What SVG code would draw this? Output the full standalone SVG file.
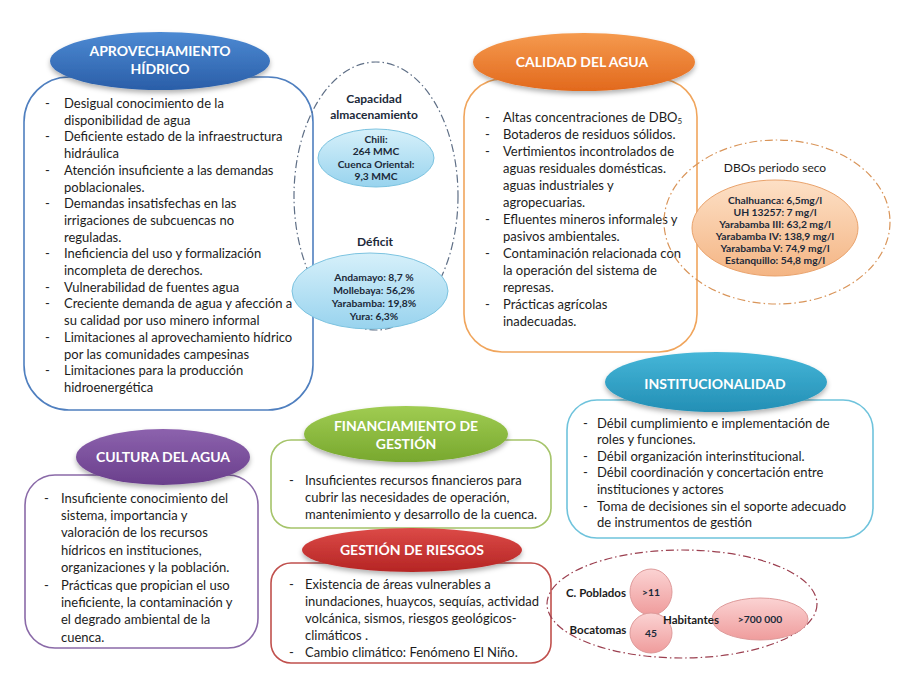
<svg xmlns="http://www.w3.org/2000/svg" width="898" height="685" viewBox="0 0 898 685">
<defs>
<linearGradient id="gBlue" x1="0" y1="0" x2="0" y2="1"><stop offset="0" stop-color="#4d8ad3"/><stop offset="1" stop-color="#2a5ea8"/></linearGradient>
<linearGradient id="gOrange" x1="0" y1="0" x2="0" y2="1"><stop offset="0" stop-color="#f59a4e"/><stop offset="1" stop-color="#e2691d"/></linearGradient>
<linearGradient id="gTeal" x1="0" y1="0" x2="0" y2="1"><stop offset="0" stop-color="#45b6d8"/><stop offset="1" stop-color="#238fb5"/></linearGradient>
<linearGradient id="gPurple" x1="0" y1="0" x2="0" y2="1"><stop offset="0" stop-color="#8c62ad"/><stop offset="1" stop-color="#6a3f8c"/></linearGradient>
<linearGradient id="gGreen" x1="0" y1="0" x2="0" y2="1"><stop offset="0" stop-color="#a0cc52"/><stop offset="1" stop-color="#78a82e"/></linearGradient>
<linearGradient id="gRed" x1="0" y1="0" x2="0" y2="1"><stop offset="0" stop-color="#dc4a47"/><stop offset="1" stop-color="#b52524"/></linearGradient>
<linearGradient id="gLBlue" x1="0" y1="0" x2="0" y2="1"><stop offset="0" stop-color="#d6f0fa"/><stop offset="1" stop-color="#98d3ee"/></linearGradient>
<linearGradient id="gLOrange" x1="0" y1="0" x2="0" y2="1"><stop offset="0" stop-color="#fde0c6"/><stop offset="1" stop-color="#f4b584"/></linearGradient>
<linearGradient id="gPink" x1="0" y1="0" x2="0" y2="1"><stop offset="0" stop-color="#fbd3d3"/><stop offset="1" stop-color="#ef9c9c"/></linearGradient>
<filter id="sh" x="-10%" y="-20%" width="120%" height="150%"><feDropShadow dx="0" dy="3" stdDeviation="2.5" flood-color="#000" flood-opacity="0.3"/></filter>
</defs>
<style>
.box{fill:#fff;stroke-width:1.6}
.t{font-family:Lato,"Liberation Sans",sans-serif;font-size:13px;fill:#1c1c1c}
.title{font-family:Lato,"Liberation Sans",sans-serif;font-size:14px;font-weight:bold;fill:#fff;text-anchor:middle}
.lab{font-family:Lato,"Liberation Sans",sans-serif;font-weight:bold;fill:#1c2a3a;text-anchor:middle}
.sm{font-size:10.3px}
.md{font-size:12px}
.big{font-size:11.5px;fill:#1c1c1c}
.norm{font-weight:normal;fill:#1c1c1c}
.dd{fill:none;stroke-width:1.2;stroke-dasharray:8 3 1.5 3}
</style>
<rect width="898" height="685" fill="#fff"/>
<g id="connectors"/>

<g id="aprovechamiento">
<rect class="box" x="24" y="77" width="289" height="333" rx="45" stroke="#4f7fbf"/>
<ellipse cx="160" cy="61" rx="110" ry="29" fill="url(#gBlue)" filter="url(#sh)"/>
<text class="title" x="160" y="56">APROVECHAMIENTO</text>
<text class="title" x="160" y="74">HÍDRICO</text>
<g class="t">
<text x="45" y="108">-</text><text x="64" y="108">Desigual conocimiento de la</text>
<text x="64" y="124.7">disponibilidad de agua</text>
<text x="45" y="141.4">-</text><text x="64" y="141.4">Deficiente estado de la infraestructura</text>
<text x="64" y="158.1">hidráulica</text>
<text x="45" y="174.8">-</text><text x="64" y="174.8">Atención insuficiente a las demandas</text>
<text x="64" y="191.5">poblacionales.</text>
<text x="45" y="208.2">-</text><text x="64" y="208.2">Demandas insatisfechas en las</text>
<text x="64" y="224.9">irrigaciones de subcuencas no</text>
<text x="64" y="241.6">reguladas.</text>
<text x="45" y="258.3">-</text><text x="64" y="258.3">Ineficiencia del uso y formalización</text>
<text x="64" y="275">incompleta de derechos.</text>
<text x="45" y="291.7">-</text><text x="64" y="291.7">Vulnerabilidad de fuentes agua</text>
<text x="45" y="308.4">-</text><text x="64" y="308.4">Creciente demanda de agua y afección a</text>
<text x="64" y="325.1">su calidad por uso minero informal</text>
<text x="45" y="341.8">-</text><text x="64" y="341.8">Limitaciones al aprovechamiento hídrico</text>
<text x="64" y="358.5">por las comunidades campesinas</text>
<text x="45" y="375.2">-</text><text x="64" y="375.2">Limitaciones  para la producción</text>
<text x="64" y="391.9">hidroenergética</text>
</g>
</g>

<g id="almacenamiento-deficit">
<ellipse class="dd" cx="376" cy="196" rx="82" ry="134" stroke="#5f6f86"/>
<text class="lab md" x="374" y="103">Capacidad</text>
<text class="lab md" x="374" y="119">almacenamiento</text>
<ellipse cx="376" cy="158" rx="58" ry="29" fill="url(#gLBlue)" stroke="#7cc3e0"/>
<text class="lab sm" x="376" y="142.5">Chili:</text>
<text class="lab sm" x="376" y="155">264 MMC</text>
<text class="lab sm" x="376" y="167.5">Cuenca Oriental:</text>
<text class="lab sm" x="376" y="180">9,3 MMC</text>
<text class="lab md" x="375" y="246">Déficit</text>
<ellipse cx="370" cy="291" rx="78" ry="38" fill="url(#gLBlue)" stroke="#7cc3e0"/>
<text class="lab sm" x="374" y="280.5">Andamayo: 8,7 %</text>
<text class="lab sm" x="374" y="293.5">Mollebaya: 56,2%</text>
<text class="lab sm" x="374" y="306.5">Yarabamba: 19,8%</text>
<text class="lab sm" x="374" y="319.5">Yura: 6,3%</text>
</g>

<g id="calidad">
<rect class="box" x="464" y="79" width="233" height="273" rx="38" stroke="#f0a55c"/>
<ellipse cx="584" cy="62" rx="111" ry="29" fill="url(#gOrange)" filter="url(#sh)"/>
<text class="title" x="582" y="67">CALIDAD DEL AGUA</text>
<g class="t">
<text x="485" y="121.5">-</text><text x="503" y="121.5">Altas concentraciones de DBO<tspan font-size="8" dy="2">5</tspan></text>
<text x="485" y="138.5">-</text><text x="503" y="138.5">Botaderos de residuos sólidos.</text>
<text x="485" y="155.5">-</text><text x="503" y="155.5">Vertimientos incontrolados de</text>
<text x="503" y="172.5">aguas residuales domésticas.</text>
<text x="503" y="189.5">aguas industriales y</text>
<text x="503" y="206.5">agropecuarias.</text>
<text x="485" y="223.5">-</text><text x="503" y="223.5">Efluentes mineros informales y</text>
<text x="503" y="240.5">pasivos ambientales.</text>
<text x="485" y="257.5">-</text><text x="503" y="257.5">Contaminación relacionada con</text>
<text x="503" y="274.5">la operación del sistema de</text>
<text x="503" y="291.5">represas.</text>
<text x="485" y="308.5">-</text><text x="503" y="308.5">Prácticas agrícolas</text>
<text x="503" y="325.5">inadecuadas.</text>
</g>
</g>

<g id="dbo">
<ellipse class="dd" cx="777" cy="222" rx="113" ry="82" stroke="#d9955a"/>
<text class="lab md norm" x="775" y="172">DBOs periodo seco</text>
<ellipse cx="775" cy="228" rx="83" ry="48" fill="url(#gLOrange)" stroke="#e9a26b"/>
<text class="lab sm" x="775" y="203.5">Chalhuanca: 6,5mg/l</text>
<text class="lab sm" x="775" y="215.5">UH 13257: 7 mg/l</text>
<text class="lab sm" x="775" y="227.5">Yarabamba III: 63,2 mg/l</text>
<text class="lab sm" x="775" y="239.5">Yarabamba IV: 138,9 mg/l</text>
<text class="lab sm" x="775" y="251.5">Yarabamba V: 74,9 mg/l</text>
<text class="lab sm" x="775" y="263.5">Estanquillo: 54,8 mg/l</text>
</g>

<g id="institucionalidad">
<rect class="box" x="567" y="400" width="306" height="138" rx="30" stroke="#6fc3dc"/>
<ellipse cx="716" cy="382" rx="111" ry="30" fill="url(#gTeal)" filter="url(#sh)"/>
<text class="title" x="715" y="389">INSTITUCIONALIDAD</text>
<g class="t">
<text x="583" y="427.5">-</text><text x="597" y="427.5">Débil cumplimiento e implementación de</text>
<text x="597" y="444.1">roles y funciones.</text>
<text x="583" y="460.7">-</text><text x="597" y="460.7">Débil organización interinstitucional.</text>
<text x="583" y="477.3">-</text><text x="597" y="477.3">Débil coordinación y concertación entre</text>
<text x="597" y="493.9">instituciones y actores</text>
<text x="583" y="510.5">-</text><text x="597" y="510.5">Toma de decisiones sin el soporte adecuado</text>
<text x="597" y="527.1">de instrumentos de gestión</text>
</g>
</g>

<g id="cultura">
<rect class="box" x="25" y="475" width="233" height="173" rx="30" stroke="#8a6aa8"/>
<ellipse cx="163" cy="457" rx="87" ry="28" fill="url(#gPurple)" filter="url(#sh)"/>
<text class="title" x="163" y="462">CULTURA DEL AGUA</text>
<g class="t">
<text x="44" y="502.5">-</text><text x="61" y="502.5">Insuficiente conocimiento del</text>
<text x="61" y="519.9">sistema, importancia y</text>
<text x="61" y="537.3">valoración de los recursos</text>
<text x="61" y="554.7">hídricos en instituciones,</text>
<text x="61" y="572.1">organizaciones y la población.</text>
<text x="44" y="589.5">-</text><text x="61" y="589.5">Prácticas que propician el uso</text>
<text x="61" y="606.9">ineficiente, la contaminación y</text>
<text x="61" y="624.3">el degrado ambiental de la</text>
<text x="61" y="641.7">cuenca.</text>
</g>
</g>

<g id="financiamiento">
<rect class="box" x="271" y="440" width="280" height="88" rx="20" stroke="#a5c46a"/>
<ellipse cx="406" cy="434" rx="102" ry="28" fill="url(#gGreen)" filter="url(#sh)"/>
<text class="title" x="406" y="431">FINANCIAMIENTO DE</text>
<text class="title" x="406" y="449">GESTIÓN</text>
<g class="t">
<text x="289" y="485">-</text><text x="305" y="485">Insuficientes recursos financieros para</text>
<text x="305" y="502">cubrir las necesidades de operación,</text>
<text x="305" y="519">mantenimiento y desarrollo de la cuenca.</text>
</g>
</g>

<g id="riesgos">
<rect class="box" x="271" y="563" width="280" height="100" rx="20" stroke="#c0504d"/>
<ellipse cx="412" cy="550" rx="110" ry="22" fill="url(#gRed)" filter="url(#sh)"/>
<text class="title" x="412" y="555">GESTIÓN DE RIESGOS</text>
<g class="t">
<text x="289" y="588.5">-</text><text x="305" y="588.5">Existencia de áreas vulnerables a</text>
<text x="305" y="605.5">inundaciones, huaycos, sequías, actividad</text>
<text x="305" y="622.5">volcánica, sismos, riesgos geológicos-</text>
<text x="305" y="639.5">climáticos .</text>
<text x="289" y="656.5">-</text><text x="305" y="656.5">Cambio climático: Fenómeno El Niño.</text>
</g>
</g>

<g id="poblacion">
<ellipse class="dd" cx="682" cy="604" rx="135" ry="54" stroke="#9b3f4f"/>
<ellipse cx="651" cy="592" rx="21" ry="23" fill="url(#gPink)" stroke="#de9a9a"/>
<ellipse cx="651" cy="633" rx="21" ry="20" fill="url(#gPink)" stroke="#de9a9a"/>
<ellipse cx="760" cy="619" rx="48" ry="21" fill="url(#gPink)" stroke="#de9a9a"/>
<text class="lab big" x="596" y="597">C. Poblados</text>
<text class="lab sm" x="651" y="596">&gt;11</text>
<text class="lab big" x="598" y="634">Bocatomas</text>
<text class="lab sm" x="651" y="637">45</text>
<text class="lab big" x="691" y="624">Habitantes</text>
<text class="lab sm" x="760" y="623">&gt;700 000</text>
</g>
</svg>
